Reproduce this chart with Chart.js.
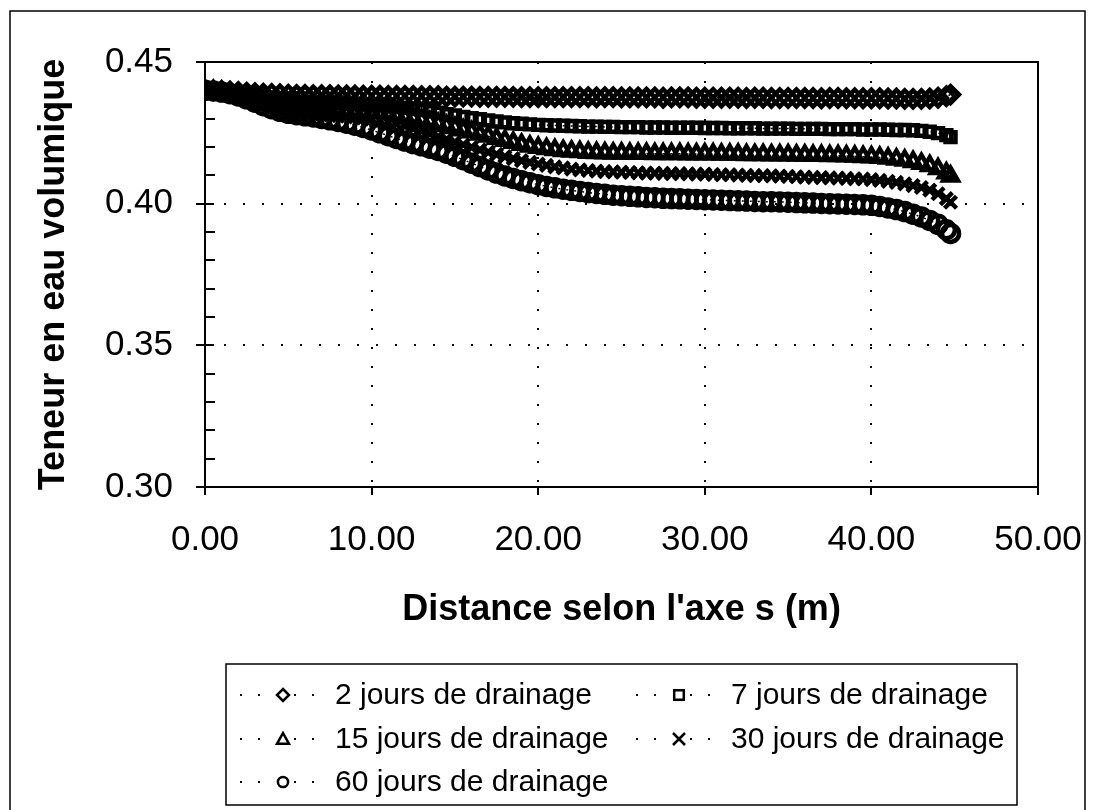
<!DOCTYPE html>
<html lang="fr">
<head>
    <meta charset="UTF-8">
    <title>Teneur en eau volumique</title>
    <script src="https://cdn.jsdelivr.net/npm/chart.js"></script>
    <style>
        html, body { margin: 0; padding: 0; background: #fff; }
        #wrap { width: 1095px; height: 810px; }
    </style>
</head>
<body>
<div id="wrap"><canvas id="chart" width="1095" height="810"></canvas></div>

<script>
    // distance along the s axis (m)
    const distances = [
        0, 0.5, 1, 1.5, 2, 2.5, 3, 3.5, 4, 4.5,
        5, 5.5, 6, 6.5, 7, 7.5, 8, 8.5, 9, 9.5,
        10, 10.5, 11, 11.5, 12, 12.5, 13, 13.5, 14, 14.5,
        15, 15.5, 16, 16.5, 17, 17.5, 18, 18.5, 19, 19.5,
        20, 20.5, 21, 21.5, 22, 22.5, 23, 23.5, 24, 24.5,
        25, 25.5, 26, 26.5, 27, 27.5, 28, 28.5, 29, 29.5,
        30, 30.5, 31, 31.5, 32, 32.5, 33, 33.5, 34, 34.5,
        35, 35.5, 36, 36.5, 37, 37.5, 38, 38.5, 39, 39.5,
        40, 40.5, 41, 41.5, 42, 42.5, 43, 43.5, 44, 44.5,
        44.75
    ];

    const jours2 = [
        .4400, .4400, .4398, .4396, .4394, .4392, .4390, .4388, .4387, .4386,
        .4385, .4384, .4384, .4383, .4383, .4383, .4382, .4382, .4382, .4381,
        .4381, .4381, .4380, .4380, .4380, .4380, .4379, .4379, .4379, .4378,
        .4378, .4378, .4378, .4377, .4377, .4377, .4377, .4377, .4376, .4376,
        .4376, .4376, .4376, .4376, .4376, .4376, .4376, .4375, .4376, .4376,
        .4375, .4375, .4375, .4375, .4375, .4374, .4375, .4375, .4375, .4374,
        .4374, .4374, .4374, .4374, .4374, .4373, .4374, .4374, .4373, .4373,
        .4373, .4373, .4373, .4373, .4372, .4373, .4373, .4372, .4372, .4372,
        .4372, .4372, .4371, .4371, .4370, .4370, .4370, .4371, .4374, .4379,
        .4385
    ];
    const jours7 = [
        .4400, .4399, .4397, .4395, .4392, .4389, .4385, .4380, .4374, .4368,
        .4363, .4360, .4358, .4356, .4355, .4354, .4353, .4352, .4351, .4350,
        .4348, .4346, .4344, .4341, .4338, .4334, .4330, .4326, .4321, .4316,
        .4311, .4306, .4302, .4298, .4294, .4290, .4287, .4284, .4282, .4280,
        .4278, .4277, .4276, .4275, .4274, .4273, .4272, .4272, .4271, .4271,
        .4270, .4270, .4270, .4269, .4269, .4269, .4268, .4268, .4268, .4268,
        .4267, .4267, .4267, .4266, .4266, .4266, .4266, .4265, .4265, .4265,
        .4265, .4264, .4264, .4264, .4264, .4263, .4263, .4263, .4263, .4262,
        .4262, .4262, .4261, .4260, .4260, .4259, .4257, .4254, .4249, .4242,
        .4235
    ];
    const jours15 = [
        .4400, .4398, .4395, .4391, .4386, .4380, .4372, .4363, .4353, .4344,
        .4337, .4333, .4331, .4330, .4329, .4328, .4327, .4326, .4325, .4324,
        .4322, .4320, .4317, .4313, .4308, .4302, .4296, .4289, .4282, .4275,
        .4268, .4260, .4253, .4245, .4238, .4230, .4223, .4216, .4209, .4203,
        .4198, .4194, .4190, .4187, .4185, .4183, .4181, .4180, .4179, .4178,
        .4178, .4177, .4177, .4177, .4176, .4176, .4176, .4176, .4175, .4175,
        .4175, .4175, .4174, .4174, .4174, .4173, .4173, .4173, .4172, .4172,
        .4172, .4171, .4171, .4170, .4170, .4169, .4169, .4168, .4167, .4166,
        .4165, .4163, .4160, .4157, .4153, .4148, .4142, .4134, .4123, .4108,
        .4097
    ];
    const jours30 = [
        .4400, .4398, .4394, .4389, .4383, .4375, .4366, .4356, .4346, .4337,
        .4330, .4325, .4321, .4318, .4315, .4313, .4311, .4309, .4306, .4303,
        .4299, .4294, .4288, .4281, .4274, .4265, .4256, .4247, .4237, .4227,
        .4217, .4208, .4199, .4190, .4182, .4174, .4166, .4159, .4152, .4146,
        .4140, .4135, .4130, .4126, .4122, .4119, .4117, .4115, .4113, .4112,
        .4111, .4110, .4109, .4108, .4108, .4107, .4106, .4106, .4105, .4104,
        .4104, .4103, .4102, .4102, .4101, .4100, .4099, .4099, .4098, .4097,
        .4096, .4095, .4094, .4093, .4092, .4091, .4090, .4089, .4088, .4087,
        .4085, .4082, .4079, .4075, .4070, .4064, .4057, .4048, .4035, .4018,
        .4005
    ];
    const jours60 = [
        .4400, .4398, .4394, .4388, .4380, .4370, .4358, .4346, .4335, .4326,
        .4319, .4314, .4310, .4306, .4301, .4296, .4290, .4284, .4277, .4269,
        .4260, .4250, .4240, .4230, .4221, .4212, .4204, .4196, .4188, .4178,
        .4167, .4155, .4143, .4131, .4119, .4108, .4098, .4089, .4081, .4074,
        .4067, .4061, .4056, .4051, .4047, .4043, .4039, .4036, .4033, .4030,
        .4028, .4026, .4024, .4022, .4021, .4019, .4018, .4017, .4016, .4015,
        .4014, .4013, .4012, .4011, .4010, .4009, .4008, .4007, .4007, .4006,
        .4005, .4004, .4003, .4002, .4001, .4000, .3999, .3998, .3997, .3996,
        .3994, .3990, .3985, .3979, .3972, .3963, .3953, .3941, .3927, .3908,
        .3895
    ];

    const seriesNames = [
        '2 jours de drainage', '7 jours de drainage', '15 jours de drainage',
        '30 jours de drainage', '60 jours de drainage'
    ];
    const seriesValues = [jours2, jours7, jours15, jours30, jours60];
    const markers = ['rectRot', 'rect', 'triangle', 'crossRot', 'circle'];

    const xTicks = [0, 10, 20, 30, 40, 50];
    const yTicks = [0.30, 0.35, 0.40, 0.45];

    const FONT = "'Liberation Sans', Arial, Helvetica, sans-serif";

    const datasets = seriesValues.map((vals, i) => ({
        label: seriesNames[i],
        data: vals.map((v, k) => ({ x: distances[k], y: v })),
        showLine: true,
        borderColor: '#000',
        borderWidth: 1.5,
        borderDash: [2, 6],
        pointStyle: markers[i],
        pointRadius: markers[i] === 'rect' ? 7 : 8.5,
        pointBorderWidth: 4.5,
        pointBorderColor: '#000',
        pointBackgroundColor: 'rgba(0,0,0,0)',
        backgroundColor: 'rgba(0,0,0,0)'
    }));

    // small marker helper for the legend box
    function legendMarker(ctx, style, x, y, r) {
        ctx.beginPath();
        if (style === 'rectRot') {
            ctx.moveTo(x, y - r); ctx.lineTo(x + r, y); ctx.lineTo(x, y + r); ctx.lineTo(x - r, y); ctx.closePath();
        } else if (style === 'rect') {
            ctx.rect(x - r * 0.8, y - r * 0.8, r * 1.6, r * 1.6);
        } else if (style === 'triangle') {
            ctx.moveTo(x, y - r); ctx.lineTo(x + r, y + r * 0.8); ctx.lineTo(x - r, y + r * 0.8); ctx.closePath();
        } else if (style === 'crossRot') {
            ctx.moveTo(x - r, y - r); ctx.lineTo(x + r, y + r);
            ctx.moveTo(x + r, y - r); ctx.lineTo(x - r, y + r);
        } else {
            ctx.arc(x, y, r * 0.85, 0, Math.PI * 2);
        }
        ctx.stroke();
    }

    const decorations = {
        id: 'decorations',
        beforeDatasetsDraw(chart) {
            const ctx = chart.ctx;
            const a = chart.chartArea;
            const xs = chart.scales.x, ys = chart.scales.y;
            ctx.save();
            ctx.strokeStyle = '#000';
            ctx.lineWidth = 2;
            ctx.strokeRect(a.left, a.top, a.right - a.left, a.bottom - a.top);
            // y ticks: major crossing the axis, minor inside
            for (let v = 30; v <= 45; v++) {
                const py = Math.round(ys.getPixelForValue(v / 100));
                ctx.beginPath();
                if (v % 5 === 0) { ctx.moveTo(a.left - 9, py); ctx.lineTo(a.left + 9, py); }
                else { ctx.moveTo(a.left, py); ctx.lineTo(a.left + 10, py); }
                ctx.stroke();
            }
            // x ticks: outside, downwards
            xTicks.forEach(t => {
                const px = Math.round(xs.getPixelForValue(t));
                ctx.beginPath();
                ctx.moveTo(px, a.bottom);
                ctx.lineTo(px, a.bottom + 8);
                ctx.stroke();
            });
            ctx.restore();
        },
        afterDraw(chart) {
            const ctx = chart.ctx;
            ctx.save();
            // outer frame
            ctx.strokeStyle = '#000';
            ctx.lineWidth = 1.5;
            ctx.strokeRect(10, 11, 1075, 810);
            // legend box
            const box = { left: 226, top: 664, right: 1017, bottom: 805 };
            ctx.lineWidth = 1.5;
            ctx.strokeRect(box.left, box.top, box.right - box.left, box.bottom - box.top);
            const cols = [240, 636];
            const rows = [695, 739, 782];
            ctx.font = '30px ' + FONT;
            ctx.textBaseline = 'middle';
            ctx.fillStyle = '#000';
            seriesNames.forEach((name, i) => {
                const x0 = cols[i % 2];
                const y0 = rows[Math.floor(i / 2)];
                ctx.setLineDash([2, 16]);
                ctx.lineWidth = 2;
                ctx.beginPath();
                ctx.moveTo(x0, y0);
                ctx.lineTo(x0 + 80, y0);
                ctx.stroke();
                ctx.setLineDash([]);
                ctx.lineWidth = 2.5;
                ctx.fillStyle = '#fff';
                ctx.fillRect(x0 + 33, y0 - 8, 20, 16);
                ctx.fillStyle = '#000';
                legendMarker(ctx, markers[i], x0 + 43, y0, 6);
                ctx.fillText(name, x0 + 95, y0 + 1);
            });
            ctx.restore();
        }
    };

    new Chart(document.getElementById('chart'), {
        type: 'scatter',
        data: { datasets: datasets },
        options: {
            responsive: false,
            animation: false,
            layout: { padding: { left: 0, top: 62, right: 57, bottom: 178 } },
            plugins: {
                legend: { display: false },
                tooltip: { enabled: false }
            },
            scales: {
                x: {
                    type: 'linear',
                    min: 0,
                    max: 50,
                    afterBuildTicks: s => { s.ticks = xTicks.map(v => ({ value: v })); },
                    afterFit: s => { s.height = 145; s.paddingLeft = 0; s.paddingRight = 0; },
                    grid: { color: '#000', lineWidth: 2, drawTicks: false },
                    border: { display: false, dash: [2, 17] },
                    ticks: {
                        color: '#000',
                        padding: 32,
                        maxRotation: 0,
                        font: { family: FONT, size: 35 },
                        callback: v => Number(v).toFixed(2)
                    },
                    title: {
                        display: true,
                        text: "Distance selon l'axe s (m)",
                        color: '#000',
                        padding: { top: 0, bottom: 0 },
                        font: { family: FONT, size: 36, weight: 'bold' }
                    }
                },
                y: {
                    type: 'linear',
                    min: 0.30,
                    max: 0.45,
                    afterBuildTicks: s => { s.ticks = yTicks.map(v => ({ value: v })); },
                    afterFit: s => { s.width = 205; s.paddingTop = 0; s.paddingBottom = 0; },
                    grid: { color: '#000', lineWidth: 2, drawTicks: false },
                    border: { display: false, dash: [2, 17] },
                    ticks: {
                        color: '#000',
                        padding: 32,
                        font: { family: FONT, size: 35 },
                        callback: v => Number(v).toFixed(2)
                    },
                    title: {
                        display: true,
                        text: 'Teneur en eau volumique',
                        color: '#000',
                        padding: { top: 32, bottom: 0 },
                        font: { family: FONT, size: 36, weight: 'bold' }
                    }
                }
            }
        },
        plugins: [decorations]
    });
</script>
</body>
</html>
